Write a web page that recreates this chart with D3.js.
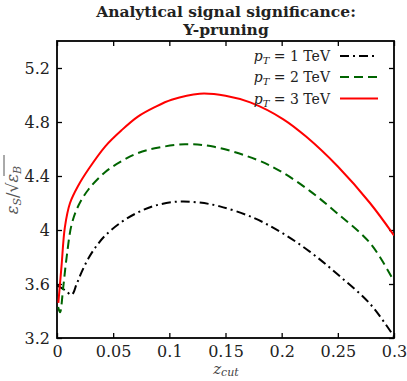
<!DOCTYPE html>
<html>
<head>
	<meta charset='utf-8'>
	<style>
		body { margin: 0; background: #fff; }
		svg { display: block; font-family: 'DejaVu Serif', 'Liberation Serif', serif; }
	</style>
</head>
<body>
	<svg></svg>
	<script src="https://d3js.org/d3.v7.min.js"></script>
	<script>
		// values
		var zcut1 = [0, 0.007, 0.013, 0.0175, 0.022, 0.028, 0.035, 0.043, 0.0576, 0.072, 0.087, 0.107, 0.125, 0.145, 0.175, 0.2, 0.225, 0.25, 0.279, 0.3];
		var sig1 = [3.59, 3.555, 3.52, 3.60, 3.69, 3.79, 3.88, 3.96, 4.06, 4.13, 4.18, 4.21, 4.205, 4.175, 4.09, 3.98, 3.84, 3.67, 3.45, 3.21];
		var zcut2 = [0.001, 0.0027, 0.0056, 0.0086, 0.013, 0.019, 0.028, 0.043, 0.0576, 0.072, 0.087, 0.114, 0.14, 0.178, 0.2, 0.225, 0.25, 0.279, 0.3];
		var sig2 = [3.43, 3.39, 3.58, 3.80, 4.04, 4.18, 4.30, 4.43, 4.51, 4.57, 4.605, 4.635, 4.616, 4.52, 4.43, 4.29, 4.12, 3.90, 3.62];
		var zcut3 = [0.0012, 0.004, 0.007, 0.0116, 0.019, 0.028, 0.043, 0.0576, 0.072, 0.087, 0.102, 0.127, 0.15, 0.172, 0.2015, 0.222, 0.25, 0.2786, 0.3];
		var sig3 = [3.46, 3.73, 4.02, 4.20, 4.33, 4.45, 4.62, 4.74, 4.84, 4.91, 4.965, 5.01, 4.995, 4.945, 4.82, 4.69, 4.47, 4.20, 3.96];
		var seriesNames = ['1', '2', '3'];
		var xTicks = [0, 0.05, 0.1, 0.15, 0.2, 0.25, 0.3];
		var yTicks = [3.2, 3.6, 4, 4.4, 4.8, 5.2];

		var width = 407, height = 381;
		var pLeft = 57, pRight = 394, pTop = 41, pBottom = 338;

		var svg = d3.select('svg').attr('width', width).attr('height', height);

		var x = d3.scaleLinear().domain([0, 0.3]).range([pLeft, pRight]);
		var y = d3.scaleLinear().domain([3.2, 5.4]).range([pBottom, pTop]);

		var fmt = function (d) { return d === 0 ? '0' : String(+d.toFixed(2)); };

		// axes with inward ticks on all four sides
		var gx = svg.append('g').attr('transform', 'translate(0,' + pBottom + ')')
			.call(d3.axisBottom(x).tickValues(xTicks).tickSize(-5).tickPadding(8).tickFormat(fmt));
		svg.append('g').attr('transform', 'translate(0,' + pTop + ')')
			.call(d3.axisTop(x).tickValues(xTicks).tickSize(-5).tickFormat(''));
		svg.append('g').attr('transform', 'translate(' + pLeft + ',0)')
			.call(d3.axisLeft(y).tickValues(yTicks).tickSize(-5).tickPadding(7).tickFormat(fmt));
		svg.append('g').attr('transform', 'translate(' + pRight + ',0)')
			.call(d3.axisRight(y).tickValues(yTicks).tickSize(-5).tickFormat(''));

		svg.selectAll('.domain').remove();
		svg.selectAll('.tick line').attr('stroke', '#000').attr('stroke-width', 1.3);
		svg.selectAll('.tick text').attr('font-family', "'DejaVu Serif', serif").attr('font-size', 16).attr('fill', '#222');
		gx.selectAll('.tick text').attr('dy', '0.71em');
		svg.append('rect').attr('x', pLeft).attr('y', pTop).attr('width', pRight - pLeft).attr('height', pBottom - pTop)
			.attr('fill', 'none').attr('stroke', '#000').attr('stroke-width', 1.8);

		svg.append('clipPath').attr('id', 'plot')
			.append('rect').attr('x', pLeft).attr('y', pTop).attr('width', pRight - pLeft).attr('height', pBottom - pTop);

		var line = d3.line().x(function (d) { return x(d[0]); }).y(function (d) { return y(d[1]); }).curve(d3.curveCatmullRom.alpha(0.5));
		var series = [
			{ z: zcut1, v: sig1, color: '#000', dash: '9,4,2,4' },
			{ z: zcut2, v: sig2, color: '#006400', dash: '9,5' },
			{ z: zcut3, v: sig3, color: '#ff0000', dash: null }
		];
		series.forEach(function (s) {
			svg.append('path')
				.datum(d3.zip(s.z, s.v))
				.attr('clip-path', 'url(#plot)')
				.attr('fill', 'none')
				.attr('stroke', s.color)
				.attr('stroke-width', 2)
				.attr('stroke-dasharray', s.dash)
				.attr('d', line);
		});

		// legend
		var legY = [56, 77, 98.5];
		series.forEach(function (s, i) {
			var t = svg.append('text').attr('x', 330).attr('y', legY[i] + 5).attr('text-anchor', 'end')
				.attr('font-size', 14).attr('fill', '#222');
			t.append('tspan').attr('font-style', 'italic').text('p');
			t.append('tspan').attr('font-style', 'italic').attr('font-size', 10).attr('dy', 3).text('T');
			t.append('tspan').attr('dy', -3).text(' = ' + seriesNames[i] + ' TeV');
			svg.append('line').attr('x1', 340).attr('x2', 378).attr('y1', legY[i]).attr('y2', legY[i])
				.attr('stroke', s.color).attr('stroke-width', 2).attr('stroke-dasharray', s.dash);
		});

		// title
		svg.append('text').attr('x', 226).attr('y', 17).attr('text-anchor', 'middle')
			.attr('font-weight', 'bold').attr('font-size', 15.5).attr('fill', '#222').text('Analytical signal significance:');
		svg.append('text').attr('x', 226).attr('y', 35).attr('text-anchor', 'middle')
			.attr('font-weight', 'bold').attr('font-size', 15.5).attr('fill', '#222').text('Y-pruning');

		// x label
		var xl = svg.append('text').attr('x', 226).attr('y', 374).attr('text-anchor', 'middle')
			.attr('font-size', 15).attr('font-style', 'italic').attr('fill', '#444');
		xl.append('tspan').text('z');
		xl.append('tspan').attr('font-size', 11).attr('dy', 2).text('cut');

		// y label
		var yl = svg.append('g').attr('transform', 'translate(18,190) rotate(-90)');
		var yt = yl.append('text').attr('text-anchor', 'middle').attr('font-size', 16).attr('fill', '#555');
		yt.append('tspan').attr('font-style', 'italic').text('ε');
		yt.append('tspan').attr('font-style', 'italic').attr('font-size', 11).attr('dy', 3).text('S');
		yt.append('tspan').attr('dy', -3).text('/√');
		yt.append('tspan').attr('font-style', 'italic').text('ε');
		yt.append('tspan').attr('font-style', 'italic').attr('font-size', 11).attr('dy', 3).text('B');
		yl.append('line').attr('x1', 14).attr('x2', 35).attr('y1', -14).attr('y2', -14).attr('stroke', '#555').attr('stroke-width', 1);
	</script>
</body>
</html>
